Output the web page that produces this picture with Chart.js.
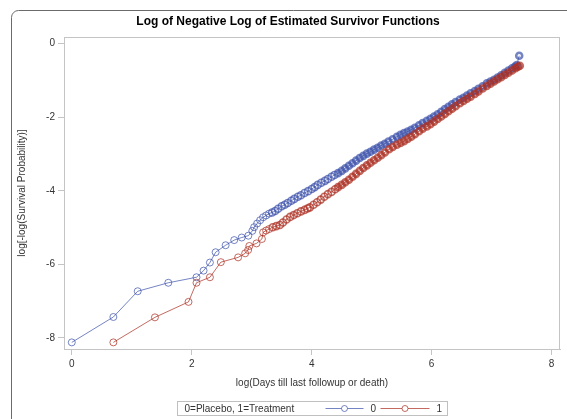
<!DOCTYPE html>
<html><head><meta charset="utf-8">
<script src="https://cdn.jsdelivr.net/npm/chart.js@4"></script>
<style>
html,body{margin:0;padding:0;background:#fff;overflow:hidden;width:567px;height:419px}
#c{position:absolute;left:0;top:0}
</style></head><body>
<canvas id="c" width="567" height="419"></canvas>
<script>
const chartTitle = 'Log of Negative Log of Estimated Survivor Functions';
const xAxisTitle = 'log(Days till last followup or death)';
const yAxisTitle = 'log[-log(Survival Probability)]';
const legendTitle = '0=Placebo, 1=Treatment';
const seriesNames = ['0', '1'];
const xTickValues = [0, 2, 4, 6, 8];
const yTickValues = [-8, -6, -4, -2, 0];

// Group 0 (Placebo)
const placeboX = [0, 0.693, 1.099, 1.609, 2.079, 2.197, 2.303, 2.398, 2.565, 2.708, 2.833, 2.944, 3.01, 3.04, 3.09,
  3.14, 3.19, 3.24, 3.29, 3.34, 3.39, 3.44, 3.50, 3.55, 3.60, 3.66, 3.71, 3.77, 3.82, 3.88, 3.94,
  4.00, 4.05, 4.10, 4.16, 4.22, 4.27, 4.33, 4.38, 4.44, 4.50, 4.56, 4.62, 4.68, 4.74, 4.80, 4.86,
  4.92, 4.98, 5.04, 5.10, 5.16, 5.22, 5.28, 5.35, 5.42, 5.48, 5.54, 5.60, 5.66, 5.72, 5.79, 5.85,
  5.92, 5.98, 6.04, 6.10, 6.16, 6.22, 6.28, 6.34, 6.40, 6.47, 6.53, 6.59, 6.65, 6.72, 6.78, 6.85,
  6.92, 6.98, 7.04, 7.10, 7.16, 7.22, 7.28, 7.34, 7.39, 7.42, 7.46];
const placeboY = [-8.12, -7.43, -6.73, -6.50, -6.35, -6.17, -5.95, -5.67, -5.48, -5.34, -5.27, -5.22, -5.09, -4.99, -4.89,
  -4.80, -4.72, -4.67, -4.62, -4.59, -4.55, -4.49, -4.42, -4.38, -4.33, -4.27, -4.22, -4.16, -4.12, -4.06, -4.01,
  -3.95, -3.90, -3.84, -3.78, -3.73, -3.68, -3.62, -3.57, -3.52, -3.46, -3.39, -3.32, -3.25, -3.18, -3.11, -3.05,
  -2.99, -2.94, -2.88, -2.83, -2.77, -2.72, -2.66, -2.60, -2.53, -2.48, -2.43, -2.39, -2.34, -2.29, -2.22, -2.16,
  -2.10, -2.04, -1.98, -1.92, -1.85, -1.78, -1.72, -1.65, -1.59, -1.52, -1.47, -1.41, -1.35, -1.29, -1.23, -1.16,
  -1.08, -1.03, -0.98, -0.92, -0.86, -0.79, -0.73, -0.67, -0.62, -0.58, -0.33];

// Group 1 (Treatment)
const treatX = [0.693, 1.386, 1.946, 2.079, 2.303, 2.485, 2.773, 2.890, 2.94, 2.96, 3.08, 3.17, 3.19,
  3.24, 3.29, 3.35, 3.41, 3.47, 3.52, 3.58, 3.64, 3.70, 3.76, 3.82, 3.88, 3.93, 3.97,
  4.03, 4.09, 4.15, 4.21, 4.27, 4.33, 4.39, 4.44, 4.50, 4.56, 4.62, 4.68, 4.74, 4.80, 4.86,
  4.92, 4.98, 5.04, 5.10, 5.16, 5.22, 5.29, 5.35, 5.42, 5.48, 5.54, 5.60, 5.66, 5.72, 5.79, 5.85,
  5.92, 5.98, 6.04, 6.10, 6.16, 6.22, 6.28, 6.34, 6.40, 6.47, 6.53, 6.59, 6.65, 6.72, 6.78, 6.85,
  6.92, 6.98, 7.04, 7.10, 7.16, 7.22, 7.28, 7.34, 7.40, 7.44, 7.47];
const treatY = [-8.12, -7.44, -7.02, -6.50, -6.35, -5.94, -5.81, -5.70, -5.61, -5.50, -5.43, -5.31, -5.13,
  -5.08, -5.04, -4.99, -4.96, -4.93, -4.86, -4.78, -4.71, -4.66, -4.61, -4.56, -4.52, -4.48, -4.45,
  -4.38, -4.31, -4.24, -4.16, -4.09, -4.03, -3.96, -3.90, -3.84, -3.77, -3.70, -3.62, -3.54, -3.46, -3.38,
  -3.31, -3.24, -3.17, -3.10, -3.03, -2.96, -2.87, -2.81, -2.75, -2.70, -2.65, -2.59, -2.53, -2.46, -2.38, -2.31,
  -2.25, -2.19, -2.12, -2.05, -1.98, -1.91, -1.84, -1.77, -1.70, -1.62, -1.56, -1.50, -1.44, -1.37, -1.30, -1.22,
  -1.15, -1.09, -1.03, -0.97, -0.91, -0.85, -0.79, -0.73, -0.67, -0.63, -0.60];

const FONT = "'Liberation Sans', Arial, Helvetica, sans-serif";
const BLUE = 'rgba(58,80,170,0.7)';
const RED = 'rgba(172,48,36,0.72)';
const AXIS = '#c4c4c4';

const zip = (xs, ys) => xs.map((x, i) => ({x: x, y: ys[i]}));

const outerBorderPlugin = {
  id: 'outerBorder',
  beforeDraw(chart) {
    const ctx = chart.ctx;
    ctx.save();
    ctx.strokeStyle = '#6b6b6b';
    ctx.lineWidth = 1;
    ctx.beginPath();
    ctx.moveTo(11.5, chart.height + 2);
    ctx.lineTo(11.5, 17.5);
    ctx.arcTo(11.5, 10.5, 18.5, 10.5, 7);
    ctx.lineTo(chart.width + 2, 10.5);
    ctx.stroke();
    ctx.restore();
  }
};

const framePlugin = {
  id: 'frame',
  beforeDatasetsDraw(chart) {
    const {ctx, chartArea: a} = chart;
    ctx.save();
    ctx.strokeStyle = AXIS;
    ctx.lineWidth = 1;
    ctx.strokeRect(Math.round(a.left) + 0.5, Math.round(a.top) + 0.5,
      Math.round(a.right - a.left) - 1, Math.round(a.bottom - a.top));
    ctx.restore();
  }
};

const legendPlugin = {
  id: 'sasLegend',
  afterDraw(chart) {
    const {ctx, chartArea: a} = chart;
    const cx = (a.left + a.right) / 2;
    const bx = Math.round(cx - 135) + 0.5, by = 401.5, bw = 270, bh = 14;
    const ym = by + bh / 2;
    ctx.save();
    ctx.strokeStyle = '#c0c0c0';
    ctx.lineWidth = 1;
    ctx.strokeRect(bx, by, bw, bh);
    ctx.font = '10px ' + FONT;
    ctx.fillStyle = '#333';
    ctx.textBaseline = 'middle';
    ctx.textAlign = 'left';
    ctx.fillText(legendTitle, bx + 7, ym + 0.5);
    const items = [
      {c: BLUE, x0: bx + 148, x1: bx + 186, label: seriesNames[0]},
      {c: RED, x0: bx + 203, x1: bx + 252, label: seriesNames[1]}
    ];
    items.forEach(it => {
      ctx.strokeStyle = it.c;
      ctx.beginPath();
      ctx.moveTo(it.x0, ym); ctx.lineTo(it.x1, ym);
      ctx.stroke();
      ctx.beginPath();
      ctx.arc((it.x0 + it.x1) / 2, ym, 3, 0, Math.PI * 2);
      ctx.fillStyle = '#fff';
      ctx.fill();
      ctx.stroke();
      ctx.fillStyle = '#333';
      ctx.fillText(it.label, it.x1 + 7, ym + 0.5);
    });
    ctx.restore();
  }
};

// heavier marker strokes where the points crowd together (style only)
const crowdedWidth = c => {
  const v = c.raw;
  if (!v) return 1;
  if (v.x >= 4.4) return 2.6;
  if (v.x >= 3.3) return 1.6;
  return 1;
};
const crowdedRadius = c => {
  const v = c.raw;
  if (v && v.x >= 4.4) return 3;
  return 3.5;
};

const dsCommon = {
  showLine: true,
  borderWidth: 1,
  pointRadius: crowdedRadius,
  pointHoverRadius: crowdedRadius,
  pointBorderWidth: crowdedWidth,
  pointBackgroundColor: 'rgba(0,0,0,0)',
  tension: 0
};

new Chart(document.getElementById('c'), {
  type: 'scatter',
  data: {
    datasets: [
      Object.assign({}, dsCommon, {label: seriesNames[0], data: zip(placeboX, placeboY),
        borderColor: BLUE, pointBorderColor: BLUE, order: 1}),
      Object.assign({}, dsCommon, {label: seriesNames[1], data: zip(treatX, treatY),
        borderColor: RED, pointBorderColor: RED, order: 0})
    ]
  },
  options: {
    responsive: false,
    animation: false,
    devicePixelRatio: 1,
    layout: {padding: {left: 16, right: 7, top: 0, bottom: 28}},
    plugins: {
      legend: {display: false},
      tooltip: {enabled: false},
      title: {
        display: true, text: chartTitle, color: '#000',
        font: {family: FONT, size: 12, weight: 'bold', lineHeight: 1.2},
        padding: {top: 14, bottom: 8.6}
      }
    },
    scales: {
      x: {
        type: 'linear', min: -0.13, max: 8.14,
        afterBuildTicks: s => { s.ticks = xTickValues.map(v => ({value: v})); },
        afterFit: s => { s.height = 42; },
        grid: {drawOnChartArea: false, drawTicks: true, tickLength: 6, color: AXIS},
        border: {display: true, color: AXIS},
        ticks: {font: {family: FONT, size: 10}, color: '#333', padding: 3, maxRotation: 0},
        title: {display: true, text: xAxisTitle, color: '#333',
          font: {family: FONT, size: 10, lineHeight: 1.2}, padding: {top: 0, bottom: 2}}
      },
      y: {
        type: 'linear', min: -8.3, max: 0.18,
        afterBuildTicks: s => { s.ticks = yTickValues.map(v => ({value: v})); },
        afterFit: s => { s.width = 48; },
        grid: {drawOnChartArea: false, drawTicks: true, tickLength: 6, color: AXIS},
        border: {display: true, color: AXIS},
        ticks: {font: {family: FONT, size: 10}, color: '#333', padding: 3},
        title: {display: true, text: yAxisTitle, color: '#333',
          font: {family: FONT, size: 10, lineHeight: 1.2}, padding: {top: 0, bottom: 0}}
      }
    }
  },
  plugins: [outerBorderPlugin, framePlugin, legendPlugin]
});
</script>
</body></html>
